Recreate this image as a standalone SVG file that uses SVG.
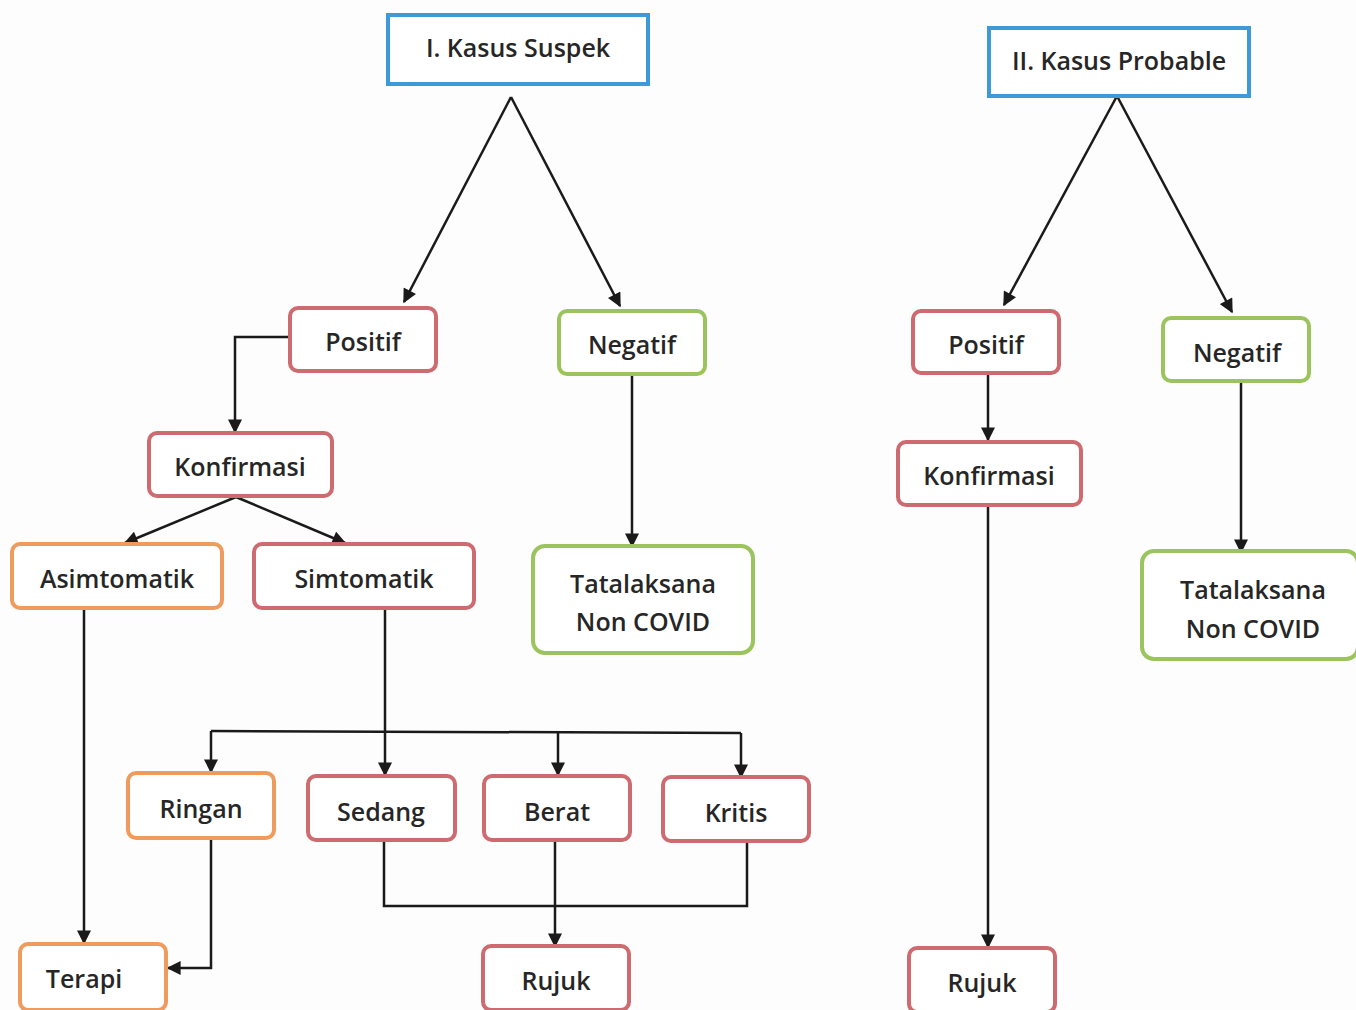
<svg xmlns="http://www.w3.org/2000/svg" width="1356" height="1010" viewBox="0 0 1356 1010">
<defs>
<marker id="ah" viewBox="0 0 10 10" refX="9" refY="5" markerWidth="15" markerHeight="14" markerUnits="userSpaceOnUse" orient="auto">
<path d="M0,0 L10,5 L0,10 z" fill="#1a1a1a"/>
</marker>
<style>
.blue{fill:#fff;stroke:#3d9ad6;stroke-width:4}
.red{fill:#fff;stroke:#cd6b70;stroke-width:4}
.green{fill:#fff;stroke:#9cc45e;stroke-width:4}
.orange{fill:#fff;stroke:#ef9b5e;stroke-width:4}
text{font-family:"Open Sans","Liberation Sans",sans-serif;font-size:25px;font-weight:600;fill:#262626;text-anchor:middle}
.c{fill:none;stroke:#1a1a1a;stroke-width:2.5}
.a{marker-end:url(#ah)}
</style>
</defs>
<rect width="1356" height="1010" fill="#fdfdfd"/>
<g id="connectors">
<path class="c a" d="M511,97 L404,302"/>
<path class="c a" d="M511,97 L620,306"/>
<path class="c a" d="M1117,96 L1004,305"/>
<path class="c a" d="M1117,96 L1232,312"/>
<path class="c a" d="M290,337 L235,337 L235,432"/>
<path class="c a" d="M632,374 L632,546"/>
<path class="c a" d="M236,497 L125,543"/>
<path class="c a" d="M236,497 L345,543"/>
<path class="c a" d="M84,608 L84,943"/>
<path class="c a" d="M385,608 L385,775"/>
<path class="c" d="M211,731 L741,733"/>
<path class="c a" d="M211,731 L211,772"/>
<path class="c a" d="M558,732 L558,775"/>
<path class="c a" d="M741,733 L741,777"/>
<path class="c a" d="M211,838 L211,968 L168,968"/>
<path class="c" d="M384,840 L384,906 L747,906 L747,841"/>
<path class="c a" d="M555,840 L555,946"/>
<path class="c a" d="M988,375 L988,440"/>
<path class="c a" d="M988,505 L988,947"/>
<path class="c a" d="M1241,381 L1241,552"/>
</g>
<g id="suspek"><rect class="blue" x="388" y="15" width="260" height="69"/><text x="518" y="57">I. Kasus Suspek</text></g>
<g id="probable"><rect class="blue" x="989" y="28" width="260" height="68"/><text x="1119" y="70">II. Kasus Probable</text></g>
<g id="positif1"><rect class="red" x="290" y="308" width="146" height="63" rx="8"/><text x="363" y="351">Positif</text></g>
<g id="negatif1"><rect class="green" x="559" y="311" width="146" height="63" rx="8"/><text x="632" y="354">Negatif</text></g>
<g id="konfirmasi1"><rect class="red" x="149" y="433" width="183" height="63" rx="8"/><text x="240" y="476">Konfirmasi</text></g>
<g id="asimtomatik"><rect class="orange" x="12" y="544" width="210" height="64" rx="8"/><text x="117" y="588">Asimtomatik</text></g>
<g id="simtomatik"><rect class="red" x="254" y="544" width="220" height="64" rx="8"/><text x="364" y="588">Simtomatik</text></g>
<g id="tatalaksana1"><rect class="green" x="533" y="546" width="220" height="107" rx="12"/><text x="643" y="593">Tatalaksana</text><text x="643" y="631">Non COVID</text></g>
<g id="ringan"><rect class="orange" x="128" y="773" width="146" height="65" rx="8"/><text x="201" y="818">Ringan</text></g>
<g id="sedang"><rect class="red" x="308" y="776" width="147" height="64" rx="8"/><text x="381" y="821">Sedang</text></g>
<g id="berat"><rect class="red" x="484" y="776" width="146" height="64" rx="8"/><text x="557" y="821">Berat</text></g>
<g id="kritis"><rect class="red" x="663" y="777" width="146" height="64" rx="8"/><text x="736" y="822">Kritis</text></g>
<g id="terapi"><rect class="orange" x="20" y="944" width="146" height="66" rx="8"/><text x="84" y="988">Terapi</text></g>
<g id="rujuk1"><rect class="red" x="483" y="946" width="146" height="64" rx="8"/><text x="556" y="990">Rujuk</text></g>
<g id="positif2"><rect class="red" x="913" y="311" width="146" height="62" rx="8"/><text x="986" y="354">Positif</text></g>
<g id="negatif2"><rect class="green" x="1163" y="318" width="146" height="63" rx="8"/><text x="1237" y="362">Negatif</text></g>
<g id="konfirmasi2"><rect class="red" x="898" y="442" width="183" height="63" rx="8"/><text x="989" y="485">Konfirmasi</text></g>
<g id="tatalaksana2"><rect class="green" x="1142" y="551" width="216" height="108" rx="12"/><text x="1253" y="599">Tatalaksana</text><text x="1253" y="638">Non COVID</text></g>
<g id="rujuk2"><rect class="red" x="909" y="948" width="146" height="64" rx="8"/><text x="982" y="992">Rujuk</text></g>
</svg>
